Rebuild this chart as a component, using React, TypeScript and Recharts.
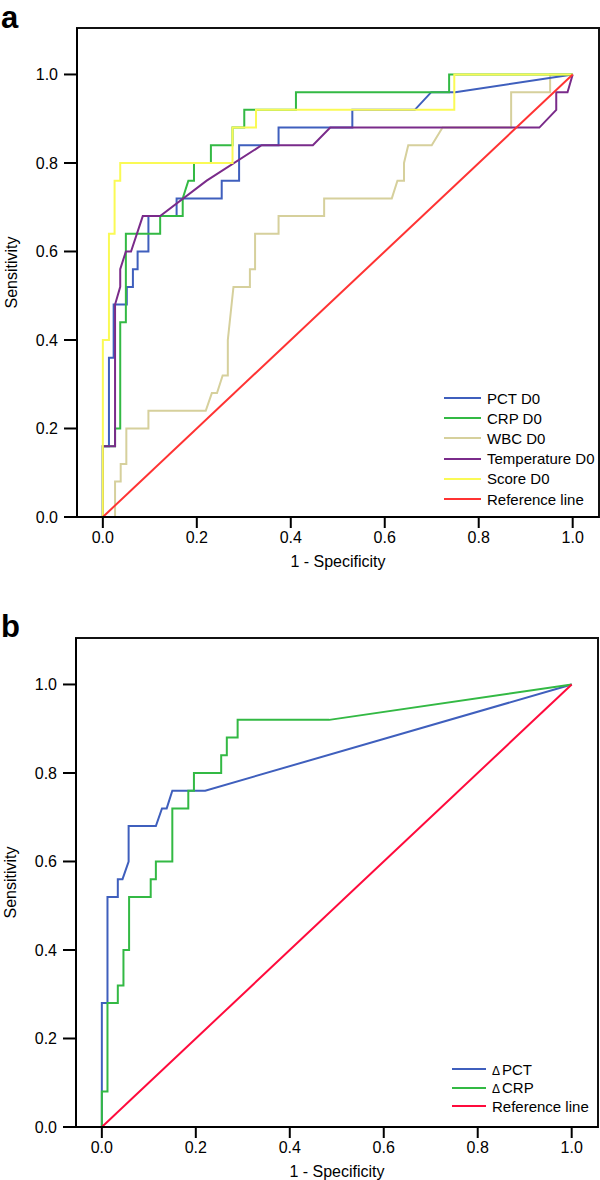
import React from "react";
import {
    LineChart,
    Line,
    XAxis,
    YAxis,
    Legend,
    ReferenceArea
} from "recharts";

const FONT = "'Liberation Sans', Arial, Helvetica, sans-serif";

const xTicks = [0, 0.2, 0.4, 0.6, 0.8, 1.0];
const yTicks = [0, 0.2, 0.4, 0.6, 0.8, 1.0];
const xDomain = [-0.055, 1.056];
const yDomain = [0, 1.105];

// panel a: [1 - specificity, sensitivity]
const pctD0 = [[0, 0], [0, 0.16], [0.013, 0.16], [0.013, 0.36], [0.023, 0.36], [0.023, 0.48], [0.051, 0.48], [0.051, 0.52], [0.064, 0.52], [0.064, 0.56], [0.074, 0.56], [0.074, 0.6], [0.097, 0.6], [0.097, 0.68], [0.157, 0.68], [0.157, 0.72], [0.253, 0.72], [0.253, 0.76], [0.29, 0.76], [0.29, 0.84], [0.374, 0.84], [0.374, 0.88], [0.531, 0.88], [0.531, 0.92], [0.664, 0.92], [0.699, 0.96], [0.75, 0.96], [1, 1]];
const crpD0 = [[0, 0], [0, 0.16], [0.026, 0.16], [0.026, 0.2], [0.037, 0.2], [0.037, 0.44], [0.049, 0.44], [0.049, 0.64], [0.122, 0.64], [0.122, 0.68], [0.17, 0.68], [0.17, 0.72], [0.182, 0.76], [0.194, 0.76], [0.194, 0.8], [0.23, 0.8], [0.23, 0.84], [0.276, 0.84], [0.276, 0.88], [0.301, 0.88], [0.301, 0.92], [0.411, 0.92], [0.411, 0.96], [0.737, 0.96], [0.737, 1], [1, 1]];
const wbcD0 = [[0, 0], [0.026, 0], [0.026, 0.08], [0.038, 0.08], [0.038, 0.12], [0.05, 0.12], [0.05, 0.2], [0.097, 0.2], [0.097, 0.24], [0.219, 0.24], [0.232, 0.28], [0.243, 0.28], [0.255, 0.32], [0.266, 0.32], [0.266, 0.4], [0.278, 0.52], [0.313, 0.52], [0.313, 0.56], [0.324, 0.56], [0.324, 0.64], [0.374, 0.64], [0.374, 0.68], [0.471, 0.68], [0.471, 0.72], [0.615, 0.72], [0.627, 0.76], [0.641, 0.76], [0.641, 0.8], [0.65, 0.84], [0.7, 0.84], [0.723, 0.88], [0.869, 0.88], [0.869, 0.96], [0.952, 0.96], [0.952, 1], [1, 1]];
const tempD0 = [[0, 0], [0, 0.16], [0.026, 0.16], [0.026, 0.48], [0.037, 0.52], [0.037, 0.56], [0.049, 0.6], [0.06, 0.6], [0.085, 0.68], [0.122, 0.68], [0.221, 0.76], [0.338, 0.84], [0.447, 0.84], [0.484, 0.88], [0.929, 0.88], [0.965, 0.92], [0.965, 0.96], [0.989, 0.96], [1, 1]];
const scoreD0 = [[0, 0], [0, 0.4], [0.013, 0.4], [0.013, 0.64], [0.025, 0.64], [0.025, 0.76], [0.037, 0.76], [0.037, 0.8], [0.276, 0.8], [0.276, 0.88], [0.326, 0.88], [0.326, 0.92], [0.748, 0.92], [0.748, 1], [1, 1]];
const refLine = [[0, 0], [1, 1]];

// panel b
const deltaPct = [[0, 0], [0, 0.28], [0.012, 0.28], [0.012, 0.52], [0.034, 0.52], [0.034, 0.56], [0.044, 0.56], [0.057, 0.6], [0.057, 0.68], [0.115, 0.68], [0.128, 0.72], [0.138, 0.72], [0.15, 0.76], [0.22, 0.76], [1, 1]];
const deltaCrp = [[0, 0], [0, 0.08], [0.012, 0.08], [0.012, 0.28], [0.034, 0.28], [0.034, 0.32], [0.046, 0.32], [0.046, 0.4], [0.058, 0.4], [0.058, 0.52], [0.104, 0.52], [0.104, 0.56], [0.115, 0.56], [0.115, 0.6], [0.15, 0.6], [0.15, 0.72], [0.184, 0.72], [0.184, 0.76], [0.196, 0.76], [0.196, 0.8], [0.254, 0.8], [0.254, 0.84], [0.266, 0.84], [0.266, 0.88], [0.289, 0.88], [0.289, 0.92], [0.484, 0.92], [1, 1]];

const toRows = (pts: number[][]) => pts.map(([x, y]) => ({ x, y }));

// drawing order = z order, legend order given separately
const seriesA = [
    { name: "WBC D0", color: "#d6d09c", points: wbcD0 },
    { name: "PCT D0", color: "#3f5fbd", points: pctD0 },
    { name: "CRP D0", color: "#33b944", points: crpD0 },
    { name: "Temperature D0", color: "#7a2b8a", points: tempD0 },
    { name: "Score D0", color: "#fafa55", points: scoreD0 },
    { name: "Reference line", color: "#ff3333", points: refLine }
];
const legendA = ["PCT D0", "CRP D0", "WBC D0", "Temperature D0", "Score D0", "Reference line"];

const seriesB = [
    { name: "ΔPCT", color: "#3f5fbd", points: deltaPct },
    { name: "ΔCRP", color: "#33b944", points: deltaCrp },
    { name: "Reference line", color: "#ff0a3c", points: refLine }
];
const legendB = ["ΔPCT", "ΔCRP", "Reference line"];

function LegendLabel({ text }: { text: string }) {
    if (text.startsWith("Δ")) {
        return (
            <span>
                <span style={{ fontSize: 12, marginRight: 2 }}>Δ</span>
                {text.slice(1)}
            </span>
        );
    }
    return <span>{text}</span>;
}

function RocPanel(prop: any) {
    const { series, legendOrder, legendPos, lineLen, rowHeight } = prop;
    const colorOf = (n: string) => series.find((s: any) => s.name === n).color;

    const renderLegend = () => (
        <div style={{ fontFamily: FONT, fontSize: 15, color: "#000" }}>
            {legendOrder.map((n: string) => (
                <div key={n} style={{ display: "flex", alignItems: "center", height: rowHeight }}>
                    <span style={{ display: "inline-block", width: lineLen, height: 2, background: colorOf(n), marginRight: 6 }} />
                    <LegendLabel text={n} />
                </div>
            ))}
        </div>
    );

    return (
        <LineChart width={600} height={571} margin={{ top: 28, right: 1, left: 0, bottom: 0 }} style={{ fontFamily: FONT }}>
            <XAxis
                type="number"
                dataKey="x"
                domain={xDomain}
                allowDataOverflow
                ticks={xTicks}
                tickFormatter={(v) => v.toFixed(1)}
                height={54}
                tickSize={11}
                tickMargin={4}
                axisLine={{ stroke: "#000", strokeWidth: 2 }}
                tickLine={{ stroke: "#000", strokeWidth: 2 }}
                tick={{ fill: "#000", fontSize: 16 }}
                label={{ value: "1 - Specificity", position: "insideBottom", offset: 4, style: { fill: "#000", fontSize: 16 } }}
            />
            <YAxis
                type="number"
                dataKey="y"
                domain={yDomain}
                allowDataOverflow
                ticks={yTicks}
                tickFormatter={(v) => v.toFixed(1)}
                width={77}
                tickSize={13}
                tickMargin={6}
                axisLine={{ stroke: "#000", strokeWidth: 2 }}
                tickLine={{ stroke: "#000", strokeWidth: 2 }}
                tick={{ fill: "#000", fontSize: 16 }}
                label={{ value: "Sensitivity", angle: -90, position: "insideLeft", offset: 11, style: { fill: "#000", fontSize: 16, textAnchor: "middle" } }}
            />
            <ReferenceArea x1={xDomain[0]} x2={xDomain[1]} y1={yDomain[0]} y2={yDomain[1]} fill="none" stroke="#111" strokeWidth={2} />
            {series.map((s: any) => (
                <Line
                    key={s.name}
                    name={s.name}
                    data={toRows(s.points)}
                    dataKey="y"
                    type="linear"
                    stroke={s.color}
                    strokeWidth={2}
                    dot={false}
                    activeDot={false}
                    isAnimationActive={false}
                />
            ))}
            <Legend
                layout="vertical"
                align="center"
                verticalAlign="middle"
                content={renderLegend}
                wrapperStyle={{ left: legendPos[0], top: legendPos[1], width: 160, height: "auto" }}
            />
        </LineChart>
    );
}

export default function App() {
    return (
        <div style={{ position: "absolute", left: 0, top: 0, width: 600, height: 1180, overflow: "hidden", background: "#fff", fontFamily: FONT }}>
            <div style={{ position: "absolute", left: 1, top: 0, fontSize: 31, fontWeight: "bold", lineHeight: "normal" }}>a</div>
            <div style={{ position: "absolute", left: 0, top: 0 }}>
                <RocPanel series={seriesA} legendOrder={legendA} legendPos={[444, 388]} lineLen={37} rowHeight={20.2} />
            </div>
            <div style={{ position: "absolute", left: 1, top: 609, fontSize: 31, fontWeight: "bold", lineHeight: "normal" }}>b</div>
            <div style={{ position: "absolute", left: -1, top: 610 }}>
                <RocPanel series={seriesB} legendOrder={legendB} legendPos={[453, 450]} lineLen={34} rowHeight={18.5} />
            </div>
        </div>
    );
}
